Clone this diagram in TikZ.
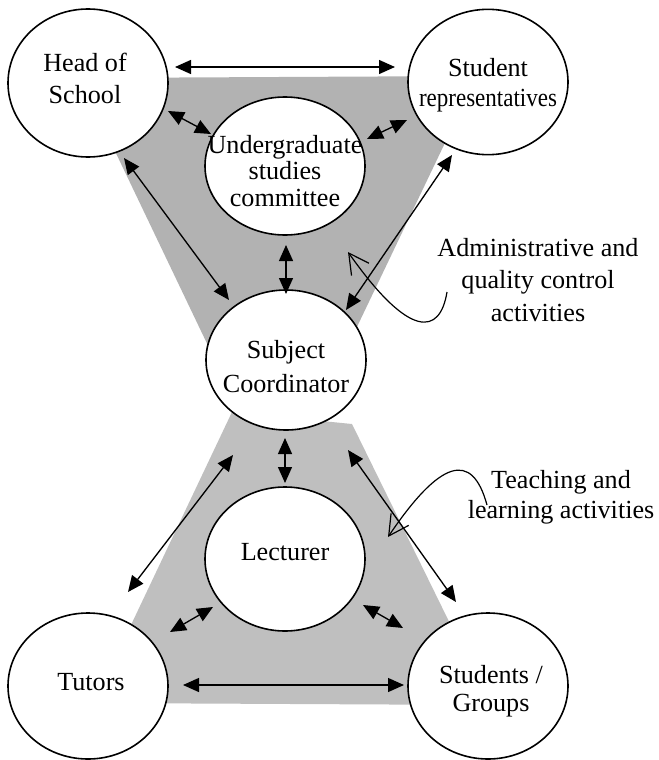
\documentclass[tikz,border=0pt]{standalone}
\usepackage{fontspec}
\setmainfont{Liberation Serif}
\usepackage{graphicx}
\usetikzlibrary{arrows.meta,shapes.geometric}

\definecolor{upperband}{gray}{0.70}
\definecolor{lowerband}{gray}{0.75}

\begin{document}
\begin{tikzpicture}[x=0.75pt,y=-0.75pt,
  role/.style={draw, line width=1.2pt, fill=white, ellipse, minimum width=120pt, inner sep=0pt},
  rolename/.style={align=center, inner sep=0pt, font=\fontsize{19.6}{24}\selectfont},
  link/.style={line width=1pt, arrows={Triangle[length=12pt,width=10.5pt]-Triangle[length=12pt,width=10.5pt]}},
  pointer/.style={line width=0.9pt, arrows={-Straight Barb[length=15pt,width=16pt]}},
  note/.style={align=center, inner sep=0pt, font=\fontsize{19.6}{24.5}\selectfont}
]
\useasboundingbox (0,0) rectangle (658,760);

% shaded bands: administration (upper) and teaching (lower)
\fill[upperband] (80,78) -- (477,76) -- (322,400) -- (234,400) -- cycle;
\fill[lowerband] (232,412) -- (352,424) -- (490,705) -- (94,703) -- cycle;

% roles
\node[role, minimum height=111pt]   (head)   at (88,83)   {};
\node[role, minimum height=109pt]   (reps)   at (488,82)  {};
\node[role, minimum height=103.5pt] (ugc)    at (285,166) {};
\node[role, minimum height=105pt]   (coord)  at (286,360) {};
\node[role, minimum height=108pt]   (lect)   at (285,559) {};
\node[role, minimum height=109.5pt] (tutors) at (88,686)  {};
\node[role, minimum height=109.5pt] (groups) at (488,686) {};

\node[rolename] (headT) at (85,78) {Head of\\School};
\node[rolename, font=\fontsize{19.6}{22.5}\selectfont] (repsT) at (488,85) {Student\\\scalebox{0.88}[1]{representatives}};
\node[rolename, font=\fontsize{19.6}{20}\selectfont] (ugcT) at (285,171) {Undergraduate\\studies\\committee};
\node[rolename, font=\fontsize{19.6}{25.5}\selectfont] (coordT) at (286,367) {Subject\\Coordinator};
\node[rolename] (lectT) at (285,552) {Lecturer};
\node[rolename] (tutorsT) at (91,682) {Tutors};
\node[rolename, font=\fontsize{19.6}{21}\selectfont] (groupsT) at (491,691) {Students /\\Groups};

% annotations
\node[note] (adminT) at (538,280) {Administrative and\\quality control\\activities};
\node[note, font=\fontsize{19.6}{22.5}\selectfont] (teachT) at (561,497) {Teaching and\\learning activities};

% connector end points
\coordinate (headR)   at (175,67);  \coordinate (repsL)   at (395,67);
\coordinate (headU)   at (168,111); \coordinate (ugcH)    at (211,134);
\coordinate (ugcR)    at (367,139); \coordinate (repsU)   at (407,120);
\coordinate (headC)   at (124,158); \coordinate (coordH)  at (229,300);
\coordinate (ugcC)    at (286,245); \coordinate (coordU)  at (286,294);
\coordinate (repsC)   at (452,155); \coordinate (coordR)  at (346,310);
\coordinate (coordL)  at (285,438); \coordinate (lectC)   at (285,483);
\coordinate (coordT2) at (233,455); \coordinate (tutorsC) at (128,592);
\coordinate (lectT2)  at (213,607); \coordinate (tutorsL) at (170,632);
\coordinate (tutorsG) at (183,685); \coordinate (groupsT2) at (404,685);
\coordinate (coordG)  at (348,450); \coordinate (groupsC) at (456,602);
\coordinate (lectG)   at (363,605); \coordinate (groupsL) at (403,628);

% two-way links
\draw[link] (headR) -- (repsL);
\draw[link] (headU) -- (ugcH);
\draw[link] (ugcR) -- (repsU);
\draw[link] (headC) -- (coordH);
\draw[link] (ugcC) -- (coordU);
\draw[link] (repsC) -- (coordR);
\draw[link] (coordL) -- (lectC);
\draw[link] (coordT2) -- (tutorsC);
\draw[link] (lectT2) -- (tutorsL);
\draw[link] (tutorsG) -- (groupsT2);
\draw[link] (coordG) -- (groupsC);
\draw[link] (lectG) -- (groupsL);

% annotation pointers
\coordinate (adminFrom) at (447,292); \coordinate (adminTo) at (348,252);
\coordinate (teachFrom) at (487,505); \coordinate (teachTo) at (388,537);
\draw[pointer] (adminFrom) .. controls (440,335) and (410,340) .. (adminTo);
\draw[pointer] (teachFrom) .. controls (472,450) and (440,460) .. (teachTo);
\end{tikzpicture}
\end{document}
